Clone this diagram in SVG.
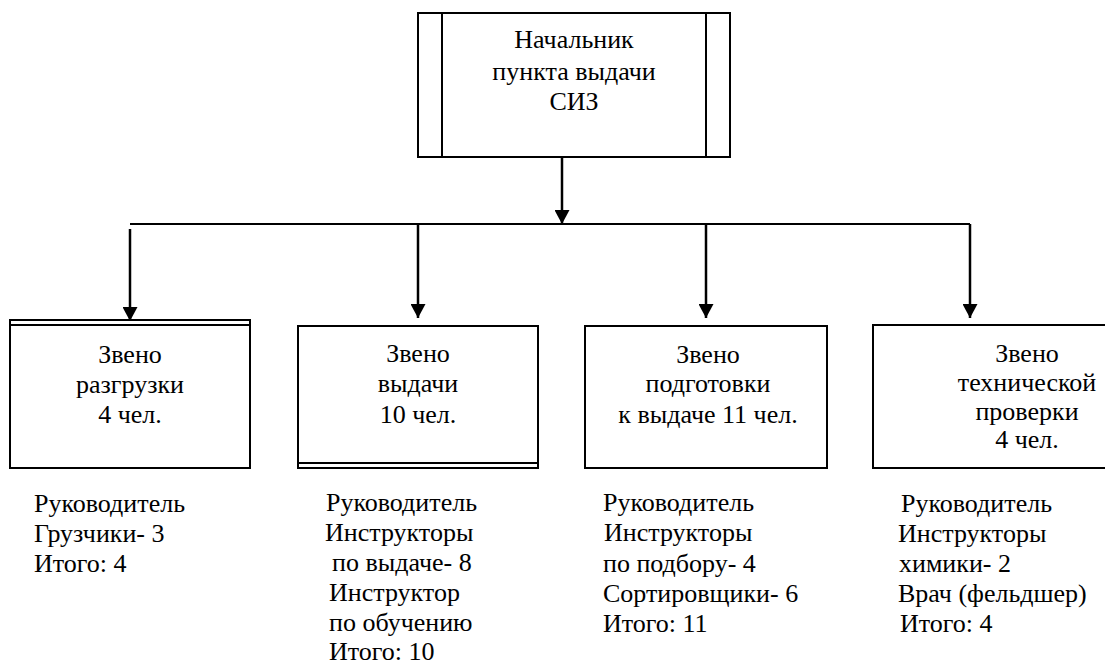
<svg xmlns="http://www.w3.org/2000/svg" width="1105" height="664" viewBox="0 0 1105 664">
<defs>
<marker id="ah" markerWidth="16" markerHeight="15" refX="14" refY="7.5" orient="auto" markerUnits="userSpaceOnUse"><path d="M0,0 L14,7.5 L0,15 Z" fill="#000"/></marker>
</defs>
<rect width="1105" height="664" fill="#fff"/>
<g id="connectors" fill="none" stroke="#000" stroke-width="2.5">
<line x1="562" y1="157" x2="562" y2="224" marker-end="url(#ah)"/>
<line x1="130" y1="224" x2="970" y2="224" stroke-width="2"/>
<line x1="130" y1="229" x2="130" y2="321" marker-end="url(#ah)"/>
<line x1="418" y1="224" x2="418" y2="318" marker-end="url(#ah)"/>
<line x1="706" y1="224" x2="706" y2="318" marker-end="url(#ah)"/>
<line x1="970" y1="224" x2="970" y2="318" marker-end="url(#ah)"/>
</g>
<g id="chief">
<rect x="418" y="13" width="312" height="144" fill="#fff" stroke="#000" stroke-width="2"/>
<line x1="442" y1="13" x2="442" y2="157" stroke="#000" stroke-width="2"/>
<line x1="706" y1="13" x2="706" y2="157" stroke="#000" stroke-width="2"/>
<text font-family="Liberation Serif" font-size="26" text-anchor="middle" x="574" y="48">Начальник</text>
<text font-family="Liberation Serif" font-size="26" text-anchor="middle" x="574" y="80">пункта выдачи</text>
<text font-family="Liberation Serif" font-size="26" text-anchor="middle" x="574" y="110">СИЗ</text>
</g>
<g id="unload">
<rect x="10" y="320" width="240" height="148" fill="#fff" stroke="#000" stroke-width="2"/>
<line x1="10" y1="325" x2="250" y2="325" stroke="#000" stroke-width="2"/>
<text font-family="Liberation Serif" font-size="26" text-anchor="middle" x="130" y="363">Звено</text>
<text font-family="Liberation Serif" font-size="26" text-anchor="middle" x="130" y="393">разгрузки</text>
<text font-family="Liberation Serif" font-size="26" text-anchor="middle" x="130" y="423">4 чел.</text>
</g>
<g id="issue">
<rect x="298" y="326" width="240" height="142" fill="#fff" stroke="#000" stroke-width="2"/>
<line x1="298" y1="463" x2="538" y2="463" stroke="#000" stroke-width="2"/>
<text font-family="Liberation Serif" font-size="26" text-anchor="middle" x="418" y="362">Звено</text>
<text font-family="Liberation Serif" font-size="26" text-anchor="middle" x="418" y="392">выдачи</text>
<text font-family="Liberation Serif" font-size="26" text-anchor="middle" x="418" y="423">10 чел.</text>
</g>
<g id="prep">
<rect x="585" y="326" width="242" height="142" fill="#fff" stroke="#000" stroke-width="2"/>
<text font-family="Liberation Serif" font-size="26" text-anchor="middle" x="708" y="363">Звено</text>
<text font-family="Liberation Serif" font-size="26" text-anchor="middle" x="708" y="392">подготовки</text>
<text font-family="Liberation Serif" font-size="26" text-anchor="middle" x="708" y="423">к выдаче 11 чел.</text>
</g>
<g id="tech">
<rect x="873" y="325" width="308" height="143" fill="#fff" stroke="#000" stroke-width="2"/>
<text font-family="Liberation Serif" font-size="26" text-anchor="middle" x="1027" y="362">Звено</text>
<text font-family="Liberation Serif" font-size="26" text-anchor="middle" x="1027" y="391">технической</text>
<text font-family="Liberation Serif" font-size="26" text-anchor="middle" x="1027" y="420">проверки</text>
<text font-family="Liberation Serif" font-size="26" text-anchor="middle" x="1027" y="448">4 чел.</text>
</g>
<g id="list1">
<text font-family="Liberation Serif" font-size="26" x="34" y="512">Руководитель</text>
<text font-family="Liberation Serif" font-size="26" x="34" y="542">Грузчики- 3</text>
<text font-family="Liberation Serif" font-size="26" x="34" y="572">Итого: 4</text>
</g>
<g id="list2">
<text font-family="Liberation Serif" font-size="26" x="326" y="511">Руководитель</text>
<text font-family="Liberation Serif" font-size="26" x="325" y="541">Инструкторы</text>
<text font-family="Liberation Serif" font-size="26" x="332" y="571">по выдаче- 8</text>
<text font-family="Liberation Serif" font-size="26" x="329" y="601">Инструктор</text>
<text font-family="Liberation Serif" font-size="26" x="329" y="631">по обучению</text>
<text font-family="Liberation Serif" font-size="26" x="329" y="660">Итого: 10</text>
</g>
<g id="list3">
<text font-family="Liberation Serif" font-size="26" x="603" y="511">Руководитель</text>
<text font-family="Liberation Serif" font-size="26" x="604" y="541">Инструкторы</text>
<text font-family="Liberation Serif" font-size="26" x="603" y="572">по подбору- 4</text>
<text font-family="Liberation Serif" font-size="26" x="603" y="602">Сортировщики- 6</text>
<text font-family="Liberation Serif" font-size="26" x="603" y="632">Итого: 11</text>
</g>
<g id="list4">
<text font-family="Liberation Serif" font-size="26" x="901" y="512">Руководитель</text>
<text font-family="Liberation Serif" font-size="26" x="898" y="542">Инструкторы</text>
<text font-family="Liberation Serif" font-size="26" x="899" y="572">химики- 2</text>
<text font-family="Liberation Serif" font-size="26" x="898" y="602">Врач (фельдшер)</text>
<text font-family="Liberation Serif" font-size="26" x="900" y="632">Итого: 4</text>
</g>
</svg>
